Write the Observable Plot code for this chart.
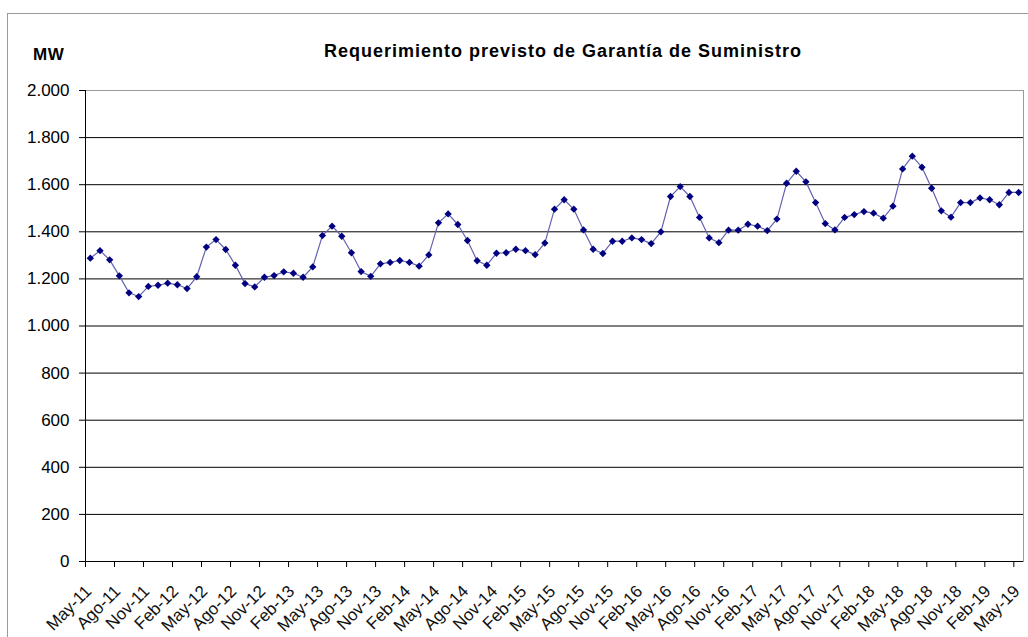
<!DOCTYPE html>
<html>
<head>
<meta charset="utf-8">
<script src="https://cdn.jsdelivr.net/npm/d3@7"></script>
<script src="https://cdn.jsdelivr.net/npm/@observablehq/plot@0.6"></script>
<style>
  html, body { margin: 0; padding: 0; background: #fff; }
  #wrap { position: relative; width: 1028px; height: 637px; overflow: hidden; font-family: "Liberation Sans", Arial, sans-serif; }
  #frame { position: absolute; left: 7px; top: 13px; width: 1100px; height: 700px; border-top: 1px solid #9a9a9a; border-left: 1px solid #9a9a9a; pointer-events: none; }
  #title { position: absolute; left: 0; width: 1126px; top: 42px; line-height: 1; text-align: center; font-weight: bold; font-size: 18px; letter-spacing: 1px; color: #000; white-space: nowrap; }
  #unit { position: absolute; left: 33px; top: 46px; line-height: 1; font-weight: bold; font-size: 17px; letter-spacing: 0.5px; color: #000; }
  #chart { position: absolute; left: 0; top: 0; }
</style>
</head>
<body>
<div id="wrap">
  <div id="chart"></div>
  <div id="frame"></div>
  <div id="unit">MW</div>
  <div id="title">Requerimiento previsto de Garantía de Suministro</div>
</div>
<script>
// Month abbreviations (Spanish) and series start
const monthNames = ["Ene","Feb","Mar","Abr","May","Jun","Jul","Ago","Sep","Oct","Nov","Dic"];
const startMonth = 4;   // May
const startYear = 2011;

// Requerimiento previsto (MW), monthly from May-11 to May-19
const values = [
  1288, 1320, 1281, 1213, 1141, 1125, 1168, 1173, 1182, 1175, 1159, 1209,
  1335, 1367, 1325, 1258, 1180, 1166, 1207, 1214, 1230, 1224, 1207, 1251,
  1384, 1424, 1381, 1311, 1231, 1211, 1264, 1270, 1278, 1270, 1254, 1302,
  1438, 1476, 1431, 1363, 1277, 1258, 1309, 1311, 1326, 1320, 1303, 1352,
  1496, 1536, 1496, 1408, 1326, 1308, 1360, 1360, 1374, 1367, 1350, 1400,
  1550, 1592, 1550, 1461, 1374, 1354, 1407, 1407, 1432, 1424, 1405, 1454,
  1606, 1657, 1612, 1524, 1435, 1408, 1461, 1473, 1486, 1479, 1458, 1509,
  1667, 1721, 1674, 1585, 1489, 1462, 1524, 1524, 1544, 1536, 1515, 1567,
  1567
];

// Y tick values
const yTicks = [0, 200, 400, 600, 800, 1000, 1200, 1400, 1600, 1800, 2000];
const labelEvery = 3;

const labels = values.map((_, i) => {
  const m = (startMonth + i) % 12;
  const y = startYear + Math.floor((startMonth + i) / 12);
  return monthNames[m] + "-" + String(y % 100).padStart(2, "0");
});
const data = values.map((v, i) => ({i, label: labels[i], value: v}));
const xTicks = labels.map((_, i) => i).filter(i => i % labelEvery === 0).map(i => i - 0.5);

const fmt = d => d >= 1000 ? Math.floor(d / 1000) + "." + String(d % 1000).padStart(3, "0") : String(d);

const chart = Plot.plot({
  width: 1028,
  height: 637,
  marginTop: 90,
  marginBottom: 76,
  marginLeft: 85,
  marginRight: 5,
  style: {fontFamily: "'Liberation Sans', Arial, sans-serif", fontSize: "17px", color: "#000", background: "transparent"},
  x: {type: "linear", domain: [-0.5, values.length - 0.5]},
  y: {domain: [0, 2000]},
  marks: [
    Plot.frame({stroke: "#9a9a9a"}),
    Plot.ruleY(yTicks.slice(1, -1), {stroke: "#000", strokeWidth: 1}),
    Plot.ruleY([0], {stroke: "#000"}),
    Plot.ruleX([-0.5], {stroke: "#000"}),
    Plot.axisY({ticks: yTicks, tickSize: 6, tickPadding: 10, tickFormat: fmt, label: null, stroke: "#000"}),
    Plot.axisX({ticks: xTicks, tickSize: 6, tickFormat: () => "", label: null, stroke: "#000"}),
    Plot.axisX({ticks: xTicks, tickSize: 0, tickPadding: 27, dx: 3, tickRotate: -45, tickFormat: d => labels[Math.round(d + 0.5)], label: null, fill: "#111"}),
    Plot.line(data, {x: "i", y: "value", stroke: "#6262b0", strokeWidth: 1.2}),
    Plot.dot(data, {x: "i", y: "value", symbol: "diamond2", r: 3.3, fill: "#000080", stroke: "none"})
  ]
});
document.getElementById("chart").appendChild(chart);
</script>
</body>
</html>
